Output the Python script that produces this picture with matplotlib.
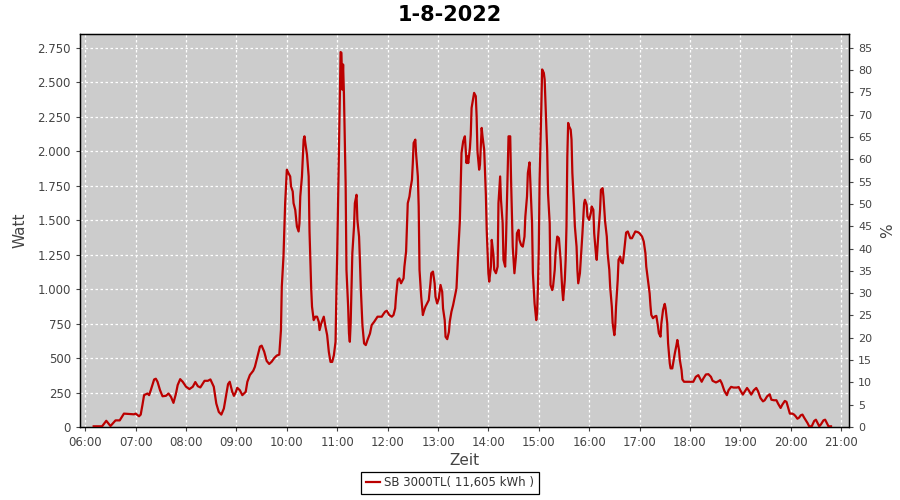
import matplotlib
matplotlib.use("Agg")
import matplotlib.pyplot as plt
from matplotlib.ticker import FuncFormatter, MultipleLocator

zeiten = [
    "06:10", "06:20", "06:25", "06:30", "06:36", "06:41", "06:46", "06:58", "07:00", "07:04",
    "07:06", "07:08", "07:10", "07:14", "07:16", "07:18", "07:22", "07:24", "07:26", "07:29",
    "07:32", "07:36", "07:39", "07:42", "07:45", "07:48", "07:50", "07:53", "07:56", "08:00",
    "08:04", "08:08", "08:11", "08:14", "08:17", "08:22", "08:26", "08:29", "08:33", "08:36",
    "08:39", "08:42", "08:45", "08:48", "08:50", "08:52", "08:55", "08:57", "08:59", "09:01",
    "09:04", "09:07", "09:11", "09:13", "09:16", "09:20", "09:22", "09:25", "09:28", "09:30",
    "09:33", "09:36", "09:39", "09:42", "09:45", "09:48", "09:51", "09:53", "09:54", "09:56",
    "09:57", "09:58", "10:00", "10:02", "10:04", "10:05", "10:07", "10:08", "10:10", "10:12",
    "10:14", "10:15", "10:16", "10:18", "10:20", "10:21", "10:22", "10:24", "10:26", "10:27",
    "10:29", "10:30", "10:32", "10:34", "10:36", "10:38", "10:39", "10:41", "10:44", "10:46",
    "10:48", "10:50", "10:52", "10:54", "10:56", "10:58", "10:59", "11:00", "11:01", "11:02",
    "11:03", "11:04", "11:05", "11:06", "11:07", "11:08", "11:10", "11:11", "11:13", "11:14",
    "11:15", "11:16", "11:18", "11:20", "11:21", "11:23", "11:24", "11:26", "11:27", "11:28",
    "11:30", "11:32", "11:34", "11:36", "11:39", "11:41", "11:44", "11:48", "11:53", "11:55",
    "11:57", "11:59", "12:02", "12:05", "12:07", "12:09", "12:10", "12:12", "12:14", "12:16",
    "12:19", "12:20", "12:22", "12:23", "12:24", "12:26", "12:27", "12:29", "12:30", "12:31",
    "12:33", "12:34", "12:36", "12:37", "12:38", "12:40", "12:42", "12:43", "12:45", "12:47",
    "12:49", "12:51", "12:52", "12:54", "12:56", "12:57", "12:59", "13:01", "13:03", "13:05",
    "13:06", "13:08", "13:09", "13:11", "13:13", "13:14", "13:16", "13:18", "13:20", "13:22",
    "13:24", "13:26", "13:27", "13:28", "13:30", "13:32", "13:34", "13:35", "13:36", "13:38",
    "13:39", "13:40", "13:42", "13:43", "13:45", "13:46", "13:47", "13:49", "13:50", "13:52",
    "13:53", "13:55", "13:57", "13:58", "14:00", "14:01", "14:03", "14:04", "14:06", "14:07",
    "14:09", "14:11", "14:12", "14:14", "14:15", "14:17", "14:18", "14:20", "14:21", "14:23",
    "14:24", "14:26", "14:27", "14:28", "14:29", "14:31", "14:33", "14:34", "14:36", "14:37",
    "14:39", "14:41", "14:43", "14:44", "14:46", "14:47", "14:49", "14:50", "14:52", "14:53",
    "14:55", "14:57", "14:58", "14:59", "15:00", "15:01", "15:03", "15:04", "15:06", "15:07",
    "15:09", "15:10", "15:11", "15:13", "15:14", "15:16", "15:17", "15:19", "15:20", "15:22",
    "15:24", "15:26", "15:28", "15:29", "15:31", "15:32", "15:33", "15:34", "15:35", "15:36",
    "15:38", "15:39", "15:40", "15:42", "15:43", "15:45", "15:46", "15:47", "15:49", "15:50",
    "15:52", "15:54", "15:55", "15:57", "15:58", "16:00", "16:02", "16:03", "16:05", "16:06",
    "16:08", "16:09", "16:11", "16:13", "16:14", "16:16", "16:17", "16:19", "16:21", "16:22",
    "16:24", "16:25", "16:27", "16:28", "16:30", "16:31", "16:32", "16:34", "16:35", "16:37",
    "16:38", "16:40", "16:41", "16:43", "16:44", "16:46", "16:49", "16:51", "16:53", "16:55",
    "16:58", "17:00", "17:03", "17:05", "17:07", "17:08", "17:10", "17:12", "17:13", "17:14",
    "17:16", "17:18", "17:20", "17:22", "17:23", "17:25", "17:26", "17:28", "17:30", "17:31",
    "17:33", "17:34", "17:35", "17:36", "17:37", "17:39", "17:40", "17:42", "17:44", "17:45",
    "17:47", "17:48", "17:50", "17:51", "17:53", "17:57", "18:01", "18:04", "18:07", "18:10",
    "18:12", "18:14", "18:16", "18:19", "18:22", "18:25", "18:27", "18:31", "18:34", "18:36",
    "18:38", "18:41", "18:44", "18:46", "18:49", "18:52", "18:56", "18:58", "19:00", "19:03",
    "19:05", "19:08", "19:10", "19:13", "19:16", "19:19", "19:21", "19:24", "19:27", "19:29",
    "19:32", "19:35", "19:37", "19:40", "19:43", "19:45", "19:48", "19:50", "19:53", "19:55",
    "19:57", "19:59", "20:02", "20:04", "20:06", "20:08", "20:10", "20:12", "20:14", "20:16",
    "20:18", "20:20", "20:22", "20:25", "20:28", "20:30", "20:32", "20:34", "20:36", "20:39",
    "20:41", "20:43", "20:45", "20:48",
]
watt = [
    5, 5, 45, 7, 48, 48, 97, 92, 97, 78,
    90, 158, 231, 243, 231, 267, 345, 350, 328, 267,
    223, 226, 243, 219, 175, 243, 304, 347, 328, 292,
    275, 292, 326, 296, 287, 335, 335, 345, 292, 170,
    109, 90, 134, 243, 311, 328, 255, 226, 250, 284,
    267, 231, 255, 328, 377, 408, 437, 510, 583, 590,
    547, 479, 457, 474, 500, 518, 525, 703, 1018, 1236,
    1442, 1623, 1866, 1840, 1817, 1745, 1708, 1623, 1575, 1454,
    1418, 1478, 1672, 1817, 2084, 2108, 2060, 1975, 1817, 1418,
    1005, 872, 775, 800, 800, 763, 703, 751, 800, 727,
    666, 545, 472, 472, 520, 618, 969, 1260, 1623, 2011,
    2362, 2719, 2714, 2447, 2629, 2411, 1769, 1139, 872, 678,
    618, 751, 1260, 1454, 1623, 1684, 1502, 1381, 1212, 1018,
    739, 606, 594, 630, 678, 739, 763, 800, 800, 819,
    836, 843, 812, 800, 812, 860, 945, 1066, 1078, 1042,
    1078, 1163, 1272, 1454, 1623, 1672, 1720, 1793, 1914, 2060,
    2084, 1975, 1817, 1599, 1139, 945, 812, 836, 872, 896,
    920, 1042, 1115, 1127, 1042, 945, 896, 933, 1030, 981,
    860, 775, 654, 637, 690, 763, 836, 884, 945, 1005,
    1260, 1490, 1745, 1987, 2072, 2108, 1914, 1963, 1914, 2023,
    2120, 2314, 2387, 2423, 2399, 2253, 1999, 1866, 1902, 2169,
    2108, 2011, 1684, 1430, 1115, 1054, 1163, 1357, 1248, 1139,
    1115, 1163, 1623, 1817, 1648, 1478, 1212, 1163, 1357, 1842,
    2108, 2108, 1793, 1551, 1308, 1115, 1248, 1405, 1430, 1357,
    1320, 1308, 1381, 1526, 1672, 1842, 1919, 1769, 1478, 1115,
    896, 775, 824, 1018, 1284, 1793, 2302, 2593, 2568, 2520,
    2181, 2011, 1696, 1478, 1030, 993, 1018, 1139, 1260, 1381,
    1369, 1212, 993, 920, 1066, 1212, 1454, 1963, 2205, 2181,
    2156, 2084, 1842, 1599, 1454, 1308, 1139, 1042, 1115, 1212,
    1405, 1623, 1648, 1611, 1526, 1502, 1551, 1599, 1575, 1405,
    1260, 1212, 1405, 1575, 1720, 1732, 1672, 1490, 1381, 1260,
    1139, 1018, 872, 751, 666, 727, 872, 1066, 1212, 1236,
    1199, 1187, 1236, 1357, 1410, 1418, 1369, 1369, 1393, 1418,
    1413, 1405, 1381, 1345, 1260, 1163, 1066, 969, 880, 813,
    789, 801, 806, 728, 680, 655, 752, 850, 893, 862,
    752, 607, 534, 461, 425, 425, 461, 534, 595, 631,
    558, 485, 413, 345, 328, 328, 328, 328, 364, 376,
    352, 328, 352, 381, 383, 364, 335, 323, 332, 340,
    316, 262, 231, 267, 291, 286, 286, 290, 266, 235,
    254, 283, 266, 235, 266, 283, 261, 210, 186, 194,
    223, 237, 198, 194, 194, 169, 138, 162, 189, 182,
    140, 97, 97, 90, 77, 60, 68, 85, 90, 68,
    48, 29, 5, 5, 44, 53, 29, 5, 19, 48,
    53, 29, 5, 5,
]

titel = "1-8-2022"
serie = "SB 3000TL( 11,605 kWh )"
stunden = list(range(6, 22))


def in_stunden(s):
    h, m = s.split(":")
    return int(h) + int(m) / 60.0


def tausender(v, pos):
    return f"{int(round(v)):,}".replace(",", ".")


x = [in_stunden(z) for z in zeiten]

plt.rcParams["font.family"] = "DejaVu Sans"
fig = plt.figure(figsize=(9, 5), dpi=100)
ax = fig.add_axes([80 / 900, 1 - 427 / 500, 769 / 900, 393 / 500])
ax.set_facecolor("#cccccc")

ax.plot(x, watt, color="#bb0000", linewidth=1.6, label=serie, zorder=3)

ymax = 2850
ax.set_xlim(5.895, 21.157)
ax.set_ylim(0, ymax)
ax.set_xticks(stunden)
ax.set_xticklabels([f"{h:02d}:00" for h in stunden])
ax.yaxis.set_major_locator(MultipleLocator(250))
ax.yaxis.set_major_formatter(FuncFormatter(tausender))

ax.grid(True, color="white", linestyle=(0, (2, 2)), linewidth=0.9)
ax.set_axisbelow(True)
for sp in ax.spines.values():
    sp.set_color("black")
    sp.set_linewidth(1.0)
ax.tick_params(axis="both", labelsize=8.5, colors="#444444", length=3, width=0.8)

ax.set_ylabel("Watt", fontsize=11, color="#444444", labelpad=7)
ax.set_xlabel("Zeit", fontsize=11, color="#444444", labelpad=3)

# rechte Achse in Prozent
ax2 = ax.twinx()
ax2.set_ylim(0, ymax * 85 / 2750)
ax2.yaxis.set_major_locator(MultipleLocator(5))
ax2.tick_params(axis="y", labelsize=8, colors="#444444", length=3, width=0.8)
ax2.set_ylabel("%", fontsize=11, color="#444444", labelpad=6)
for sp in ax2.spines.values():
    sp.set_color("black")

fig.suptitle(titel, fontsize=15, fontweight="bold", y=0.99)

fig.legend(loc="lower center", bbox_to_anchor=(0.5, 0.0), fontsize=8.5,
           frameon=True, fancybox=False, edgecolor="black", framealpha=1,
           handlelength=1.2, handletextpad=0.4, borderpad=0.4)
leg = fig.legends[0]
leg.get_frame().set_linewidth(0.9)
for t in leg.get_texts():
    t.set_color("#333333")

fig.savefig("out.png", dpi=100)
